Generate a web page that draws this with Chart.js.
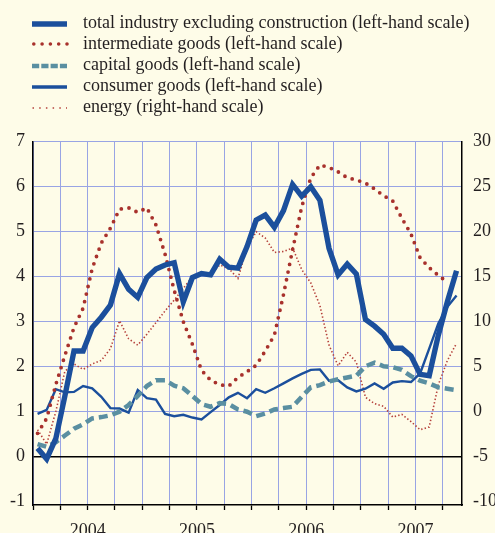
<!DOCTYPE html>
<html>
<head>
<meta charset="utf-8">
<script src="https://cdn.jsdelivr.net/npm/chart.js@4.4.1/dist/chart.umd.min.js"></script>
<style>
html,body{margin:0;padding:0;background:#fefce8;}
#wrap{position:relative;width:495px;height:533px;overflow:hidden;background:#fefce8;}
#c{position:absolute;left:0;top:0;}
#legend{position:absolute;left:0;top:0;width:495px;height:130px;font-family:"Liberation Serif","Times New Roman",serif;font-size:18px;color:#231f20;}
.row{position:absolute;left:83px;height:21px;line-height:21px;white-space:nowrap;}
.sample{position:absolute;left:32px;}
</style>
</head>
<body>
<div id="wrap">
  <canvas id="c" width="495" height="533"></canvas>
  <div id="legend"></div>
</div>
<script>
// ---- data (monthly, Jan 2004 .. Nov 2007) ----
const yearLabels = ['2004', '2005', '2006', '2007'];
const seriesNames = [
  'total industry excluding construction (left-hand scale)',
  'intermediate goods (left-hand scale)',
  'capital goods (left-hand scale)',
  'consumer goods (left-hand scale)',
  'energy (right-hand scale)'
];
const leftTicks = [-1, 0, 1, 2, 3, 4, 5, 6, 7];
const rightTicks = [-10, -5, 0, 5, 10, 15, 20, 25, 30];

const totalIndustry = [0.19, -0.05, 0.40, 1.35, 2.35, 2.35, 2.87, 3.10, 3.37, 4.07, 3.72, 3.54,
  3.98, 4.17, 4.26, 4.31, 3.44, 3.98, 4.07, 4.04, 4.39, 4.21, 4.19, 4.67,
  5.26, 5.37, 5.10, 5.47, 6.05, 5.79, 6.00, 5.70, 4.63, 4.04, 4.28, 4.06,
  3.05, 2.90, 2.72, 2.41, 2.41, 2.24, 1.83, 1.80, 2.70, 3.45, 4.13];
const intermediateGoods = [0.52, 0.85, 1.60, 2.25, 2.87, 3.30, 4.18, 4.75, 5.08, 5.50, 5.53, 5.43,
  5.53, 5.15, 4.50, 3.70, 3.00, 2.50, 1.92, 1.70, 1.60, 1.57, 1.76, 1.89,
  2.03, 2.35, 2.70, 3.60, 4.60, 5.55, 6.20, 6.48, 6.43, 6.33, 6.20, 6.15,
  6.08, 5.95, 5.80, 5.68, 5.30, 4.95, 4.42, 4.20, 4.03, 3.88];
const capitalGoods = [0.28, 0.22, 0.32, 0.47, 0.62, 0.72, 0.85, 0.88, 0.92, 1.00, 1.15, 1.35,
  1.57, 1.70, 1.70, 1.58, 1.52, 1.35, 1.17, 1.11, 1.19, 1.17, 1.05, 1.00,
  0.90, 0.96, 1.05, 1.08, 1.11, 1.33, 1.54, 1.59, 1.67, 1.72, 1.76, 1.80,
  2.01, 2.09, 2.01, 1.99, 1.93, 1.79, 1.69, 1.63, 1.54, 1.51, 1.48];
const consumerGoods = [0.95, 1.04, 1.50, 1.43, 1.44, 1.57, 1.52, 1.33, 1.08, 1.07, 0.98, 1.48,
  1.30, 1.27, 0.95, 0.90, 0.93, 0.87, 0.83, 0.99, 1.15, 1.32, 1.42, 1.30,
  1.50, 1.42, 1.52, 1.63, 1.74, 1.84, 1.93, 1.94, 1.69, 1.70, 1.54, 1.45,
  1.51, 1.63, 1.51, 1.65, 1.68, 1.66, 1.85, 2.40, 2.96, 3.33, 3.58];
const energy = [-2.0, -3.6, 0.0, 4.5, 5.3, 4.7, 5.3, 5.7, 7.0, 10.1, 8.1, 7.4,
  8.6, 9.9, 11.2, 12.4, 13.7, 15.0, 15.2, 15.2, 16.3, 15.9, 14.8, 18.2,
  20.0, 19.3, 17.7, 17.8, 18.2, 15.8, 14.3, 11.8, 7.4, 5.1, 6.6, 5.5,
  1.6, 0.9, 0.6, -0.6, -0.3, -1.1, -2.0, -1.7, 3.0, 5.7, 7.6];

// ---- styling ----
const BLUE = '#1b4f9c', RED = '#a8312c', TEAL = '#5a8fa1', RED2 = '#b5403b';
const GRID = '#99a4e4', INK = '#231f20';
const FONT = {family: '"Liberation Serif", "Times New Roman", serif', size: 18};

const toPoints = arr => arr.map((v, i) => ({x: i + 0.5, y: v}));

// HTML legend
const legendSamples = [
  '<line x1="0" y1="5" x2="35" y2="5" stroke="' + BLUE + '" stroke-width="5.5"/>',
  '<line x1="1.8" y1="5" x2="36" y2="5" stroke="' + RED + '" stroke-width="3.6" stroke-linecap="round" stroke-dasharray="0 8.3"/>',
  '<line x1="0" y1="5" x2="35" y2="5" stroke="' + TEAL + '" stroke-width="4.5" stroke-dasharray="7.2 2.1"/>',
  '<line x1="0" y1="5" x2="35" y2="5" stroke="' + BLUE + '" stroke-width="3.3"/>',
  '<line x1="0.5" y1="5" x2="35" y2="5" stroke="' + RED2 + '" stroke-width="1.7" stroke-dasharray="1.5 5.2"/>'
];
const legendSampleY = [24, 44.3, 65.6, 87, 108.3];
const legendBaseline = [28.3, 49.4, 70.6, 91.8, 112.9];
let html = '';
seriesNames.forEach((name, k) => {
  html += '<svg class="sample" width="37" height="10" style="top:' + (legendSampleY[k] - 5) + 'px">' + legendSamples[k] + '</svg>';
  html += '<div class="row" style="top:' + (legendBaseline[k] - 16.6) + 'px">' + name + '</div>';
});
document.getElementById('legend').innerHTML = html;

const PX_TOP = 141.7, PX_BOTTOM = 505, UNIT = 45;
const leftMin = -1 - ((PX_BOTTOM - PX_TOP) - 8 * UNIT) / UNIT;
const rightMin = leftMin * 5 - 5;

new Chart(document.getElementById('c'), {
  type: 'line',
  data: {
    datasets: [
      {label: seriesNames[0], data: toPoints(totalIndustry), yAxisID: 'y', borderColor: BLUE, borderWidth: 5.4, borderJoinStyle: 'miter'},
      {label: seriesNames[1], data: toPoints(intermediateGoods), yAxisID: 'y', borderColor: RED, borderWidth: 3.8, borderDash: [0, 7.8], borderCapStyle: 'round'},
      {label: seriesNames[2], data: toPoints(capitalGoods), yAxisID: 'y', borderColor: TEAL, borderWidth: 4.5, borderDash: [9, 5]},
      {label: seriesNames[3], data: toPoints(consumerGoods), yAxisID: 'y', borderColor: BLUE, borderWidth: 2.4},
      {label: seriesNames[4], data: toPoints(energy), yAxisID: 'y2', borderColor: RED2, borderWidth: 1.6, borderDash: [1.4, 2.2]}
    ]
  },
  options: {
    responsive: false,
    animation: false,
    events: [],
    layout: {padding: {top: PX_TOP, left: 0, right: 0, bottom: 0}},
    elements: {point: {radius: 0}, line: {tension: 0, fill: false}},
    plugins: {legend: {display: false}, tooltip: {enabled: false}},
    scales: {
      x: {
        type: 'linear', min: 0, max: 47.1,
        afterBuildTicks: s => { const t = []; for (let v = 0; v <= 45; v += 3) t.push({value: v}); s.ticks = t; },
        afterFit: s => { s.height = 533 - PX_BOTTOM; },
        ticks: {
          autoSkip: false, maxRotation: 0, font: FONT, color: INK, padding: 10,
          callback: v => (v % 12 === 6) ? yearLabels[(v - 6) / 12] : ''
        },
        grid: {color: GRID, lineWidth: 1, drawTicks: true, tickLength: 5, tickColor: '#000', tickWidth: 1.3},
        border: {color: '#000', width: 1.5}
      },
      y: {
        position: 'left', min: leftMin, max: 7,
        afterBuildTicks: s => { s.ticks = leftTicks.map(v => ({value: v})); },
        afterFit: s => { s.width = 33; },
        ticks: {font: FONT, color: INK, padding: 8},
        grid: {
          drawTicks: false,
          color: c => c.tick.value === 0 ? '#000' : (c.tick.value === -1 ? 'rgba(0,0,0,0)' : GRID),
          lineWidth: c => c.tick.value === 0 ? 1.4 : 1
        },
        border: {color: '#000', width: 1.5}
      },
      y2: {
        position: 'right', min: rightMin, max: 30,
        afterBuildTicks: s => { s.ticks = rightTicks.map(v => ({value: v})); },
        afterFit: s => { s.width = 495 - 462; },
        ticks: {font: FONT, color: INK, padding: 11},
        grid: {drawOnChartArea: false, drawTicks: false},
        border: {color: '#000', width: 1.5}
      }
    }
  }
});
</script>
</body>
</html>
